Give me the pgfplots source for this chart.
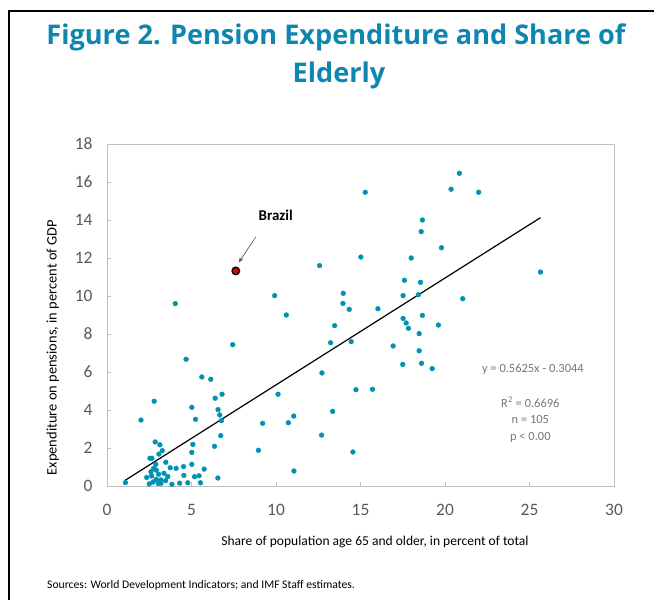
\documentclass[border=0pt]{standalone}
\usepackage{fontspec}
\setmainfont{Carlito}
\newfontfamily\titlefont{Open Sans}
\usepackage{pgfplots}
\pgfplotsset{compat=1.18}
\usepackage{pgfplotstable}
\usetikzlibrary{arrows.meta}
\definecolor{titleteal}{RGB}{14,134,176}
\definecolor{dotteal}{RGB}{0,146,180}
\definecolor{tickgray}{RGB}{89,89,89}
\definecolor{annogray}{RGB}{118,118,118}
\definecolor{axgray}{RGB}{191,191,191}

\pgfplotstableread{
x y
1.09 0.18
2.01 3.47
2.79 4.46
2.85 2.32
3.13 2.17
3.27 1.86
3.07 1.68
2.54 1.46
2.66 1.46
2.89 1.14
3.48 1.25
3.74 0.96
4.09 0.93
2.76 0.93
2.60 0.75
2.91 0.84
3.05 0.62
2.64 0.53
3.37 0.67
3.47 0.28
3.19 0.32
2.91 0.35
3.03 0.14
2.50 0.11
3.84 0.09
4.53 1.02
4.55 0.56
4.78 0.17
5.08 2.19
5.02 1.77
5.02 1.14
5.18 0.49
5.45 0.54
5.75 0.89
5.53 0.17
3.19 0.14
2.72 0.21
2.35 0.45
3.60 0.50
4.30 0.15
4.68 6.67
5.61 5.74
6.14 5.62
7.44 7.44
6.40 4.62
6.81 4.83
5.02 4.14
5.24 3.51
6.57 4.02
6.67 3.74
6.77 3.44
6.73 2.65
6.36 2.09
6.56 0.42
4.04 9.60
8.96 1.88
9.92 10.02
10.61 9.00
10.12 4.83
9.21 3.30
10.73 3.33
11.05 3.68
11.06 0.79
12.58 11.60
12.72 5.95
12.70 2.68
13.23 7.54
13.47 8.44
13.35 3.93
13.98 10.14
13.96 9.61
14.33 9.30
14.45 7.60
14.73 5.07
14.55 1.79
15.02 12.05
15.28 15.46
15.71 5.09
16.03 9.33
16.93 7.37
17.52 10.02
17.60 10.83
17.52 8.82
17.70 8.58
17.84 8.30
17.50 6.40
18.00 12.00
18.43 10.07
18.55 10.72
18.47 8.02
18.47 7.12
18.66 8.98
18.61 6.46
18.66 14.00
18.59 13.39
19.24 6.18
19.61 8.47
19.79 12.54
20.36 15.62
20.85 16.46
21.05 9.86
21.99 15.46
25.65 11.26
}\countries

\begin{document}
\begin{tikzpicture}
\useasboundingbox (0,0) rectangle (654bp,-600bp);
% outer frame
\draw[black, line width=2bp] (9bp,-600bp) -- (9bp,-11bp) -- (654bp,-11bp);
% title
\node[anchor=base, font=\titlefont\fontsize{27.2}{30}\selectfont\bfseries, text=titleteal] at (336bp,-44bp) {Figure 2. Pension Expenditure and Share of};
\node[anchor=base, font=\titlefont\fontsize{27.2}{30}\selectfont\bfseries, text=titleteal] at (339bp,-82bp) {Elderly};
% sources
\node[anchor=base west, font=\fontsize{11.7}{14}\selectfont, inner sep=0pt] at (47bp,-588bp) {Sources: World Development Indicators; and IMF Staff estimates.};

\begin{axis}[
  at={(107bp,-486bp)}, anchor=south west,
  scale only axis, width=507bp, height=342bp,
  xmin=0, xmax=30, ymin=0, ymax=18,
  xtick={0,5,...,30}, ytick={0,2,...,18},
  xtick pos=bottom, ytick pos=left,
  tick align=inside, major tick length=4bp,
  tick style={axgray, line width=0.8bp},
  axis line style={axgray, line width=1bp},
  /pgf/number format/assume math mode=true,
  ticklabel style={font=\fontsize{17.5}{19}\selectfont, text=tickgray},
  xticklabel style={yshift=-15bp},
  yticklabel style={xshift=-11bp},
  xlabel={Share of population age 65 and older, in percent of total},
  ylabel={Expenditure on pensions, in percent of GDP},
  xlabel style={font=\fontsize{13.6}{15}\selectfont, text=black, at={(axis description cs:0.5286,-0.163)}, anchor=center},
  ylabel style={font=\fontsize{14.5}{16}\selectfont, text=black, at={(axis description cs:-0.107,0.405)}, anchor=center},
  clip=false,
]
\addplot[black, line width=1.2bp] coordinates {(1.06,0.292) (25.65,14.124)};
\addplot[only marks, mark=*, mark size=2.4bp, mark options={fill=dotteal, draw=dotteal}] table[x=x,y=y] {\countries};
\addplot[only marks, mark=*, mark size=3.8bp, mark options={fill=red!90!black, draw=black, line width=1.3bp}] coordinates {(7.62,11.32)};
\draw[-{Stealth[length=5bp,width=4bp]}, black!70, line width=0.6bp] (axis cs:8.80,13.10) -- (axis cs:7.80,11.77);
\node[anchor=base, font=\fontsize{15}{17}\selectfont\bfseries] at (axis cs:9.98,13.95) {Brazil};
\node[anchor=base, font=\fontsize{12.5}{14}\selectfont, text=annogray] at (axis cs:25.2,5.95) {y = 0.5625x - 0.3044};
\node[anchor=base, font=\fontsize{12.5}{14}\selectfont, text=annogray] at (axis cs:25.05,4.15) {R\textsuperscript{2} = 0.6696};
\node[anchor=base, font=\fontsize{12.5}{14}\selectfont, text=annogray] at (axis cs:25.05,3.3) {n = 105};
\node[anchor=base, font=\fontsize{12.5}{14}\selectfont, text=annogray] at (axis cs:25.05,2.4) {p < 0.00};
\end{axis}
\end{tikzpicture}
\end{document}
